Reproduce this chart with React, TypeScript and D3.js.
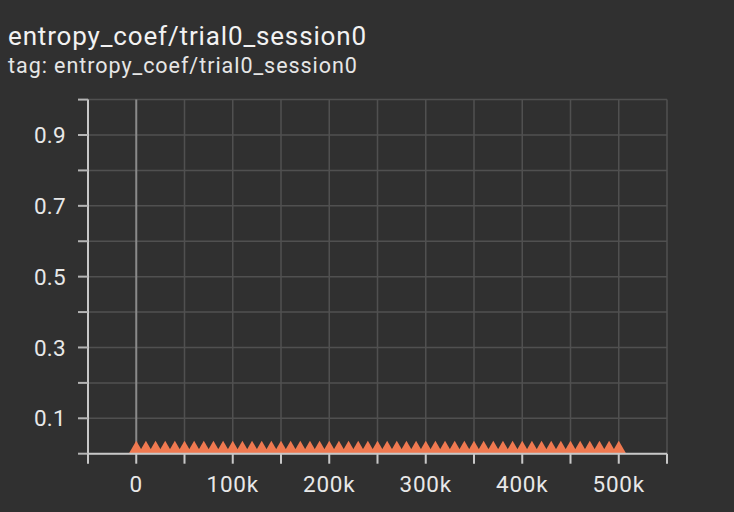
import React, { useRef, useEffect } from 'react';
import * as d3 from 'd3';

// steps logged every 10k, coefficient stays flat at 0.01
const steps = d3.range(0, 500001, 10000);
const entropyCoef = steps.map(() => 0.01);
const yTicks = [0, 0.1, 0.2, 0.3, 0.4, 0.5, 0.6, 0.7, 0.8, 0.9, 1.0];
const yLabels = [0.1, 0.3, 0.5, 0.7, 0.9];
const xTicks = [-50000, 0, 50000, 100000, 150000, 200000, 250000, 300000, 350000, 400000, 450000, 500000, 550000];
const xLabels = [0, 100000, 200000, 300000, 400000, 500000];

const title = 'entropy_coef/trial0_session0';
const subtitle = 'tag: entropy_coef/trial0_session0';

export default function App() {
    const svgRef = useRef<SVGSVGElement | null>(null);

    useEffect(() => {
        if (!svgRef.current) return;
        const svg = d3.select(svgRef.current);
        svg.selectAll('*').remove();

        const W = 734, H = 512;
        const font = 'Roboto, sans-serif';
        svg.attr('width', W).attr('height', H);

        svg.append('rect').attr('width', W).attr('height', H).attr('fill', '#303030');

        svg.append('text').attr('x', 8).attr('y', 44.5)
            .style('font-family', font).style('font-size', '26px')
            .style('letter-spacing', '0.85px')
            .attr('fill', '#f2f2f2').text(title);
        svg.append('text').attr('x', 8).attr('y', 73)
            .style('font-family', font).style('font-size', '21.5px')
            .style('letter-spacing', '0.95px')
            .attr('fill', '#e6e6e6').text(subtitle);

        const x = d3.scaleLinear().domain([-50000, 550000]).range([88, 667]);
        const y = d3.scaleLinear().domain([0, 1]).range([453.7, 99.6]);

        // grid
        const grid = svg.append('g');
        grid.selectAll('.hg').data(yTicks).join('line')
            .attr('x1', x(-50000)).attr('x2', x(550000))
            .attr('y1', d => y(d)).attr('y2', d => y(d))
            .attr('stroke', '#505050').attr('stroke-width', 1.5);
        grid.selectAll('.vg').data(xTicks.filter(d => d !== 0 && d !== -50000)).join('line')
            .attr('x1', d => x(d)).attr('x2', d => x(d))
            .attr('y1', y(1)).attr('y2', y(0))
            .attr('stroke', '#505050').attr('stroke-width', 1.5);
        // zero line
        grid.append('line')
            .attr('x1', x(0)).attr('x2', x(0)).attr('y1', y(1)).attr('y2', y(0))
            .attr('stroke', '#8a8a8a').attr('stroke-width', 2);

        // series
        svg.append('defs').append('clipPath').attr('id', 'plotClip')
            .append('rect').attr('x', x(-50000)).attr('y', y(1))
            .attr('width', x(550000) - x(-50000)).attr('height', y(0) - y(1));

        const series = svg.append('g').attr('clip-path', 'url(#plotClip)');
        const line = d3.line<number>().x((d, i) => x(steps[i])).y(d => y(d));
        series.append('path').attr('d', line(entropyCoef))
            .attr('fill', 'none').attr('stroke', '#ef7950').attr('stroke-width', 2);
        const tri = d3.symbol().type(d3.symbolTriangle).size(98);
        series.selectAll('.pt').data(entropyCoef).join('path')
            .attr('d', tri)
            .attr('transform', (d, i) => `translate(${x(steps[i])},${y(d) - 0.8})`)
            .attr('fill', '#ef7950');

        // axes
        const axisCol = '#c8c8c8';
        svg.append('line').attr('x1', x(-50000)).attr('x2', x(-50000))
            .attr('y1', y(1)).attr('y2', y(0) + 1)
            .attr('stroke', axisCol).attr('stroke-width', 2);
        svg.append('line').attr('x1', x(-50000) - 1).attr('x2', x(550000))
            .attr('y1', y(0)).attr('y2', y(0))
            .attr('stroke', axisCol).attr('stroke-width', 2);

        svg.append('g').selectAll('line').data(yTicks).join('line')
            .attr('x1', x(-50000) - 10).attr('x2', x(-50000))
            .attr('y1', d => y(d)).attr('y2', d => y(d))
            .attr('stroke', '#b4b4b4').attr('stroke-width', 2);
        svg.append('g').selectAll('line').data(xTicks).join('line')
            .attr('x1', d => x(d)).attr('x2', d => x(d))
            .attr('y1', y(0)).attr('y2', y(0) + 10)
            .attr('stroke', axisCol).attr('stroke-width', 2);

        svg.append('g').selectAll('text').data(yLabels).join('text')
            .attr('x', 66).attr('y', d => y(d)).attr('dy', '0.36em')
            .attr('text-anchor', 'end')
            .style('font-family', font).style('font-size', '22.5px')
            .style('letter-spacing', '0.3px')
            .attr('fill', '#e8e8e8').text(d => d3.format('.1f')(d));

        const fmtK = (d: number) => d === 0 ? '0' : `${d / 1000}k`;
        svg.append('g').selectAll('text').data(xLabels).join('text')
            .attr('x', d => x(d)).attr('y', 492)
            .attr('text-anchor', 'middle')
            .style('font-family', font).style('font-size', '22.5px')
            .style('letter-spacing', '0.8px')
            .attr('fill', '#e8e8e8').text(d => fmtK(d));
    }, []);

    return (
        <div style={{ position: 'fixed', left: 0, top: 0, width: 734, height: 512 }}>
            <svg ref={svgRef}></svg>
        </div>
    );
}
